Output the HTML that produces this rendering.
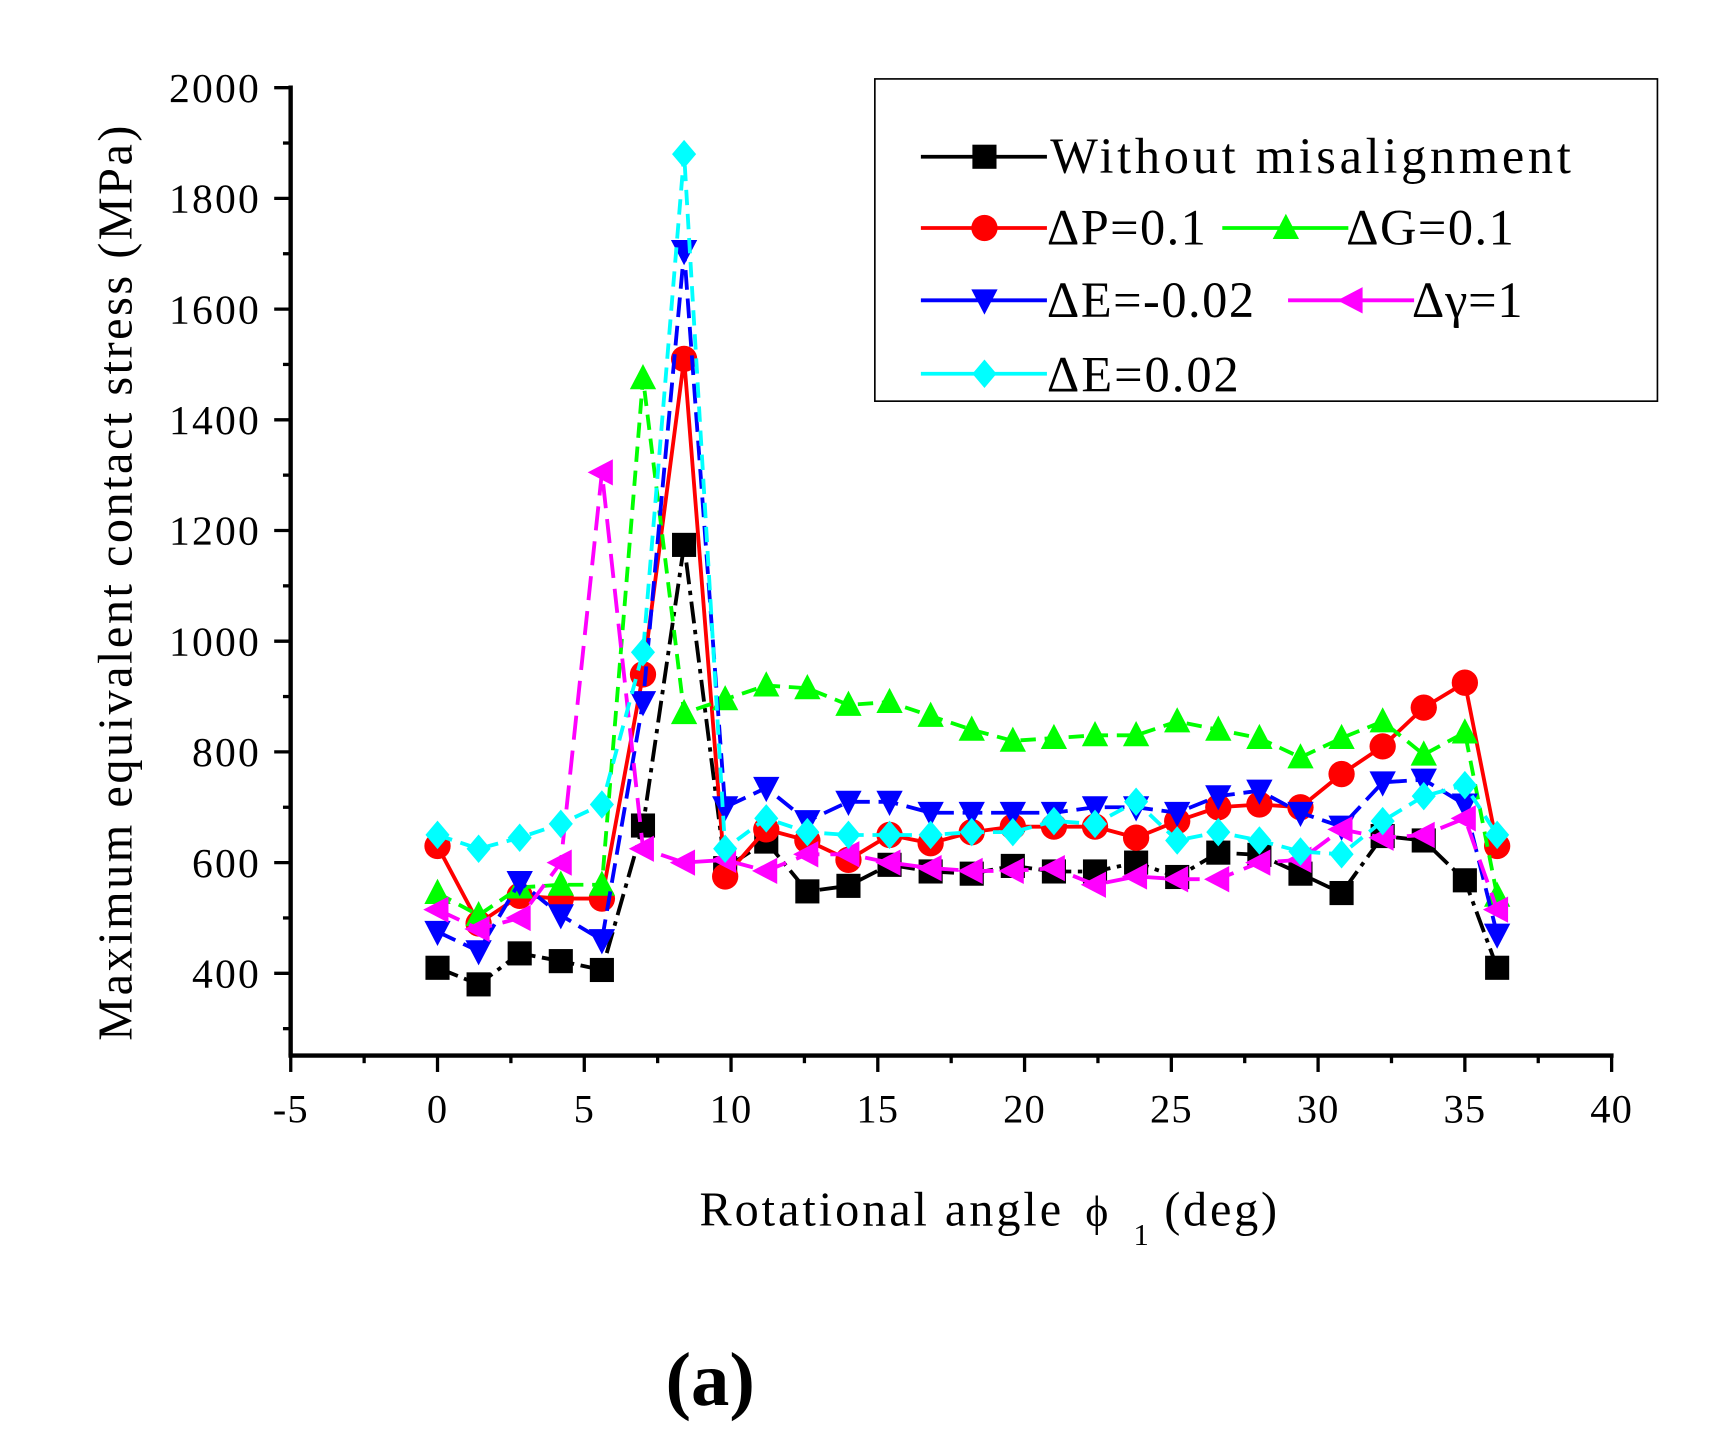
<!DOCTYPE html>
<html><head><meta charset="utf-8"><style>html,body{margin:0;padding:0;background:#fff}svg{display:block}</style></head>
<body>
<svg id="s" xmlns="http://www.w3.org/2000/svg" width="1719" height="1449" viewBox="0 0 1568 1322" font-family="Liberation Serif, serif">
<rect width="1568" height="1322" fill="#fff"/>
<g id="ax"></g>
<g id="data"></g>
<rect x="798" y="72" width="714" height="294" fill="#fff" stroke="#000" stroke-width="1.5"/>
<g id="leg"></g>
<g font-size="46" fill="#000" letter-spacing="3">
<text x="958" y="158" textLength="478" lengthAdjust="spacing">Without misalignment</text>
<text x="955" y="223" textLength="148" lengthAdjust="spacing">ΔP=0.1</text>
<text x="1228" y="223" textLength="156" lengthAdjust="spacing">ΔG=0.1</text>
<text x="955" y="289" textLength="192" lengthAdjust="spacing">ΔE=-0.02</text>
<text x="1288" y="289" textLength="104" lengthAdjust="spacing">Δγ=1</text>
<text x="955" y="357" textLength="178" lengthAdjust="spacing">ΔE=0.02</text>
</g>
<text x="120" y="532" font-size="44" text-anchor="middle" transform="rotate(-90 120 532)" textLength="835" lengthAdjust="spacing">Maximum equivalent contact stress (MPa)</text>
<text x="638" y="1118" font-size="44" textLength="330" lengthAdjust="spacing">Rotational angle</text>
<text x="990" y="1118" font-size="40">ϕ</text>
<text x="1034" y="1136" font-size="28">1</text>
<text x="1062" y="1118" font-size="44" textLength="103" lengthAdjust="spacing">(deg)</text>
<text x="607" y="1282" font-size="70" font-weight="bold">(a)</text>
</svg>
<script>
const NS="http://www.w3.org/2000/svg";
function el(t,a,p){const e=document.createElementNS(NS,t);for(const k in a)e.setAttribute(k,a[k]);if(p)p.appendChild(e);return e;}
const X=v=>399+(v)*26.78, Y=v=>80+(2000-v)*0.505;
const ax=document.getElementById('ax');
el('line',{x1:265,y1:78,x2:265,y2:963,stroke:'#000','stroke-width':4},ax);
el('line',{x1:263,y1:963,x2:1472,y2:963,stroke:'#000','stroke-width':4},ax);
for(let v=300;v<=2000;v+=100){const y=Y(v);const maj=v%200==0;
 el('line',{x1:maj?250:258,y1:y,x2:265,y2:y,stroke:'#000','stroke-width':3},ax);
 if(maj&&v>=400){const t=el('text',{x:238,y:y+13,'font-size':38,'text-anchor':'end','letter-spacing':2},ax);t.textContent=v;}}
for(let v=-5;v<=40;v+=2.5){const x=X(v);const maj=v%5==0;
 el('line',{x1:x,y1:963,x2:x,y2:maj?978:970,stroke:'#000','stroke-width':3},ax);
 if(maj){const t=el('text',{x:x,y:1024,'font-size':37,'text-anchor':'middle','letter-spacing':1},ax);t.textContent=v;}}
const xs=[];for(let i=0;i<26;i++)xs.push(i*1.4);xs.push(36.1);
const S=[
 {c:'#000',m:'sq',d:'20 6 4 6',v:[410,380,436,422,406,667,1174,590,638,548,558,596,584,580,594,584,584,600,574,618,614,580,545,648,640,568,410]},
 {c:'#f00',m:'ci',d:null,v:[630,490,540,535,535,940,1510,575,660,640,605,650,635,655,665,665,665,645,675,700,705,700,760,810,880,925,630]},
 {c:'#0f0',m:'up',d:'14 8',v:[545,505,555,560,560,1475,870,895,920,915,885,890,865,840,820,825,830,830,855,840,825,790,825,855,795,835,540]},
 {c:'#00f',m:'dn',d:'18 8',v:[475,440,565,505,460,890,1705,700,735,675,710,710,690,690,690,690,700,700,690,720,730,690,665,745,750,705,470]},
 {c:'#f0f',m:'lt',d:'22 10',v:[515,480,500,600,1305,625,600,605,585,615,615,600,590,585,585,590,560,575,570,570,600,605,660,645,650,680,515]},
 {c:'#0ff',m:'di',d:'14 8',v:[650,625,645,670,705,980,1880,625,680,655,650,650,650,655,655,675,670,710,640,655,640,620,615,675,720,740,650]}];
function mk(m,x,y,c,g){const r=11;
 if(m=='sq')el('rect',{x:x-r,y:y-r,width:2*r,height:2*r,fill:c},g);
 else if(m=='ci')el('circle',{cx:x,cy:y,r:r+1,fill:c},g);
 else{let p;if(m=='up')p=[[x,y-r-2],[x+r+1,y+r-1],[x-r-1,y+r-1]];
 else if(m=='dn')p=[[x,y+r+2],[x+r+1,y-r+1],[x-r-1,y-r+1]];
 else if(m=='lt')p=[[x-r-2,y],[x+r-1,y-r-1],[x+r-1,y+r+1]];
 else p=[[x,y-r-2],[x+r,y],[x,y+r+2],[x-r,y]];
 el('polygon',{points:p.map(q=>q.join(',')).join(' '),fill:c},g);}}
const dg=document.getElementById('data');
S.forEach(s=>{const pts=s.v.map((v,i)=>X(xs[i]).toFixed(1)+','+Y(v).toFixed(1)).join(' ');
 const a={points:pts,fill:'none',stroke:s.c,'stroke-width':3.5,'stroke-linejoin':'round'};if(s.d)a['stroke-dasharray']=s.d;el('polyline',a,dg);
 s.v.forEach((v,i)=>mk(s.m,X(xs[i]),Y(v),s.c,dg));});
const lg=document.getElementById('leg');
[[0,840,143],[1,840,208],[2,1115,208],[3,840,274],[4,1175,274],[5,840,341]].forEach(([i,x0,y])=>{const s=S[i];
 el('line',{x1:x0,y1:y,x2:x0+115,y2:y,stroke:s.c,'stroke-width':3.5},lg);mk(s.m,x0+58,y,s.c,lg);});
</script>
</body></html>
